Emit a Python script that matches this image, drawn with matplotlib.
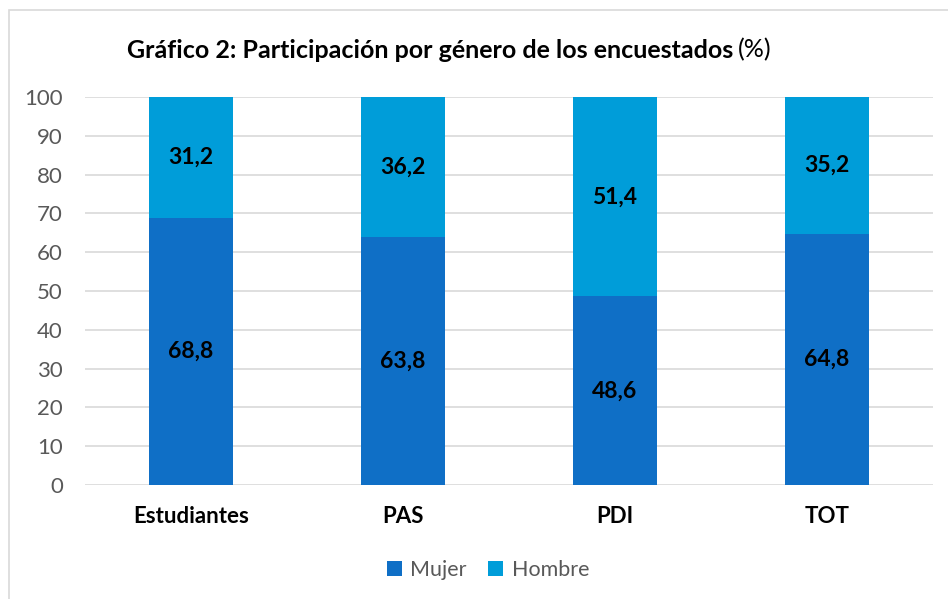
import matplotlib.pyplot as plt
from matplotlib.patches import Rectangle

categories = ['Estudiantes', 'PAS', 'PDI', 'TOT']
mujer = [68.8, 63.8, 48.6, 64.8]
hombre = [31.2, 36.2, 51.4, 35.2]

plt.rcParams['font.family'] = ['Lato', 'DejaVu Sans']

W, H = 948, 599
fig = plt.figure(figsize=(W / 100, H / 100), dpi=100)

# chart frame (cut at right and bottom like the original)
fig.patches.append(Rectangle((9 / W, -0.1), 1.2, (H - 10) / H + 0.1,
                             transform=fig.transFigure, fill=False,
                             edgecolor='#D9D9D9', linewidth=1.2))

ax = fig.add_axes([85 / W, (H - 485) / H, (933 - 85) / W, (485 - 97) / H])
x = range(len(categories))
ax.bar(x, mujer, width=0.4, color='#0F6FC6', label='Mujer', zorder=3)
ax.bar(x, hombre, width=0.4, bottom=mujer, color='#009DD9', label='Hombre', zorder=3)

for i in x:
    ax.text(i, mujer[i] / 2, f'{mujer[i]:.1f}'.replace('.', ','), ha='center', va='center',
            fontsize=16.5, fontweight='bold', color='black', zorder=4)
    ax.text(i, mujer[i] + hombre[i] / 2, f'{hombre[i]:.1f}'.replace('.', ','), ha='center',
            va='center', fontsize=16.5, fontweight='bold', color='black', zorder=4)

ax.set_xlim(-0.5, 3.5)
ax.set_ylim(0, 100)
ax.set_yticks(range(0, 101, 10))
ax.set_xticks(list(x))
ax.set_xticklabels(categories, fontsize=16, fontweight='bold', color='black')
ax.tick_params(axis='y', labelsize=16, labelcolor='#595959', length=0, pad=16)
ax.tick_params(axis='x', length=0, pad=15)
ax.grid(axis='y', color='#D9D9D9', linewidth=1.2, zorder=0)
for s in ax.spines.values():
    s.set_visible(False)

fig.text(733 / W, 1 - 50 / H, 'Gráfico 2: Participación por género de los encuestados',
         ha='right', va='center', fontsize=18, fontweight='bold', color='black')
fig.text(738 / W, 1 - 50 / H, '(%)', ha='left', va='center', fontsize=18, color='black')

fig.legend(loc='center', bbox_to_anchor=(488 / W, 1 - 570 / H), ncol=2, frameon=False,
           fontsize=15.5, handlelength=0.7, handleheight=0.7, handletextpad=0.4,
           columnspacing=1.0, labelcolor='#595959')

fig.savefig('out.png', dpi=100)
